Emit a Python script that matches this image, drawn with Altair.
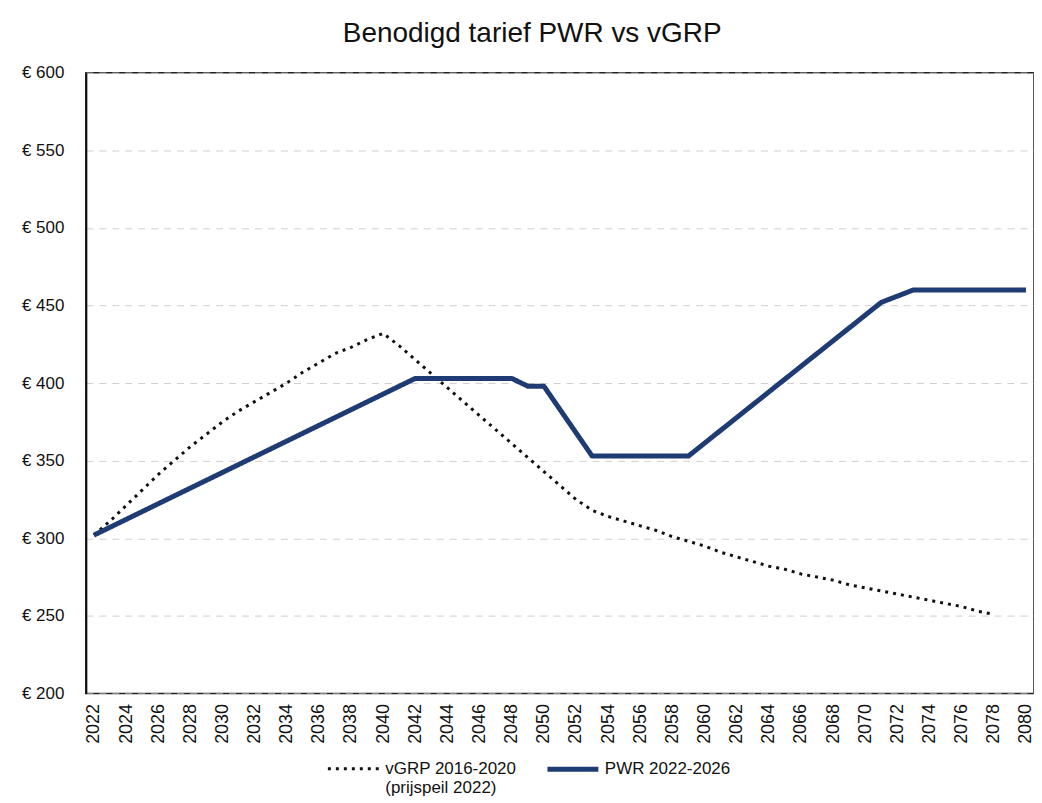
import altair as alt
import pandas as pd

# PWR 2022-2026 (solid navy) - vertices
pwr_years = [2022, 2042, 2048, 2049, 2050, 2053, 2059, 2071, 2073, 2080]
pwr_values = [302, 403, 403, 398, 398, 353, 353, 452, 460, 460]

# vGRP 2016-2020 (prijspeil 2022) (dotted black) - annual values
vgrp_years = list(range(2022, 2079))
vgrp_values = [302, 311, 321, 331, 341, 350, 359, 367, 375, 382, 388, 394, 400, 407, 413, 419, 423, 428, 432,
               424, 415, 406, 397, 388, 379, 370, 361, 352, 343, 334, 325,
               318, 314, 311, 308, 305, 301, 298,
               295, 291, 288, 285, 282, 280, 277, 275, 273, 270,
               268, 266, 264, 262, 260, 258, 256, 253, 251]

series_names = ["vGRP 2016-2020", "PWR 2022-2026"]
series_colors = ["#111111", "#1F3B73"]
series_dash = [[3, 5], [1, 0]]
series_widths = [3, 5]

x_tick_years = list(range(2022, 2081, 2))
y_ticks = [200, 250, 300, 350, 400, 450, 500, 550, 600]

rows = []
for i, (yr, v) in enumerate(zip(vgrp_years, vgrp_values)):
    rows.append({"jaar": yr, "tarief": v, "reeks": series_names[0], "ord": i})
for i, (yr, v) in enumerate(zip(pwr_years, pwr_values)):
    rows.append({"jaar": yr, "tarief": v, "reeks": series_names[1], "ord": i})
df = pd.DataFrame(rows)

FONT = "Liberation Sans"

label_expr = ("datum.label == 'vGRP 2016-2020' ? ['vGRP 2016-2020', '  (prijspeil 2022)'] "
              ": [datum.label, ' ']")

chart = alt.Chart(df).mark_line(strokeCap="butt", strokeJoin="round").encode(
    x=alt.X("jaar:Q",
            scale=alt.Scale(domain=[2021.5, 2080.5], nice=False, zero=False),
            axis=alt.Axis(values=x_tick_years, format="d", labelAngle=-90, ticks=False,
                          labelPadding=10, domain=False, grid=False, labelFontSize=18,
                          labelColor="#111", labelFont=FONT, title=None)),
    y=alt.Y("tarief:Q",
            scale=alt.Scale(domain=[200, 600], nice=False, zero=False),
            axis=alt.Axis(values=y_ticks, labelExpr="'€ ' + datum.value", ticks=False,
                          labelPadding=22, domain=True, domainColor="#111", domainWidth=2,
                          grid=True, gridColor="#cfcfcf", gridDash=[7, 6], gridWidth=1,
                          labelFontSize=17, labelColor="#111", labelFont=FONT, title=None)),
    color=alt.Color("reeks:N",
                    scale=alt.Scale(domain=series_names, range=series_colors),
                    legend=alt.Legend(title=None, orient="none", legendX=240, legendY=670,
                                      direction="horizontal", columns=2, symbolType="stroke",
                                      symbolSize=2600, labelFontSize=17, labelFont=FONT,
                                      labelColor="#111", columnPadding=20, labelOffset=4,
                                      symbolStrokeWidth=4, labelExpr=label_expr)),
    strokeDash=alt.StrokeDash("reeks:N",
                              scale=alt.Scale(domain=series_names, range=series_dash),
                              legend=None),
    strokeWidth=alt.StrokeWidth("reeks:N",
                                scale=alt.Scale(domain=series_names, range=series_widths),
                                legend=None),
    order="ord:Q",
).properties(
    width=950,
    height=622,
    padding={"left": 78, "top": 64, "right": 0, "bottom": 108},
    autosize="none",
    title=alt.TitleParams("Benodigd tarief PWR vs vGRP", fontSize=28, font=FONT,
                          fontWeight="normal", color="#111", anchor="middle",
                          frame="bounds", offset=16, dx=4),
).configure_view(
    stroke="#222", strokeWidth=1.5
)

chart.save("out.html", embed_options={"renderer": "svg", "actions": False})
